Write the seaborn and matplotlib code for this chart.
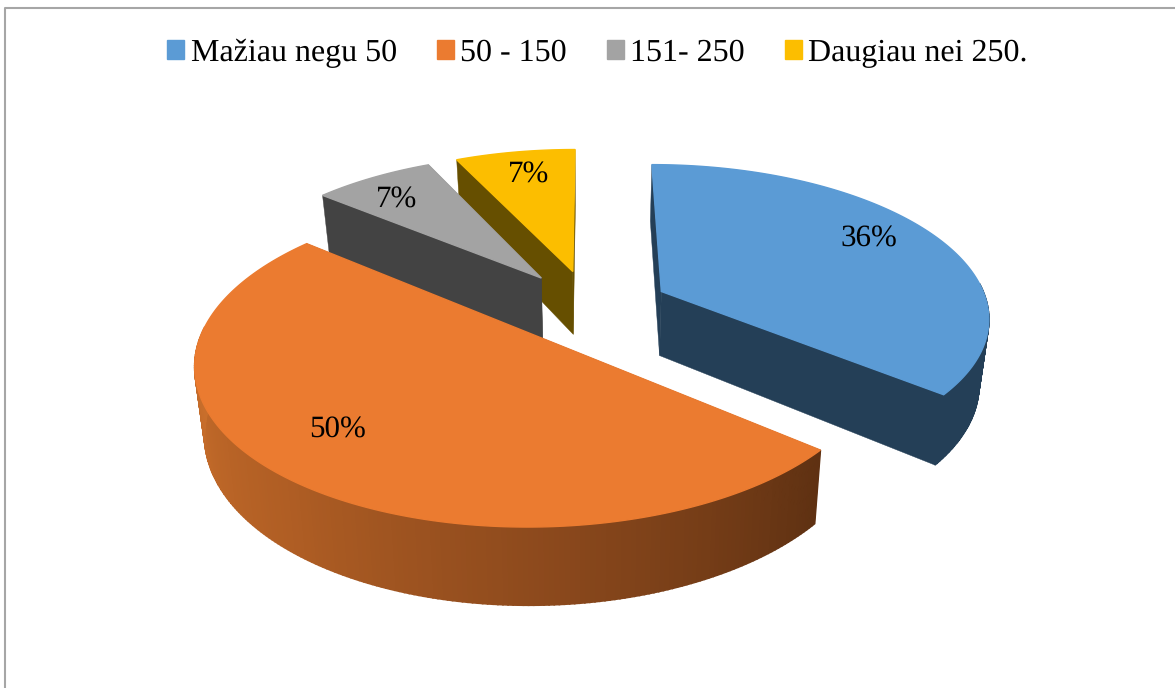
import numpy as np
import seaborn as sns
import matplotlib.pyplot as plt
from matplotlib.patches import Patch

# data
categories = ["Mažiau negu 50", "50 - 150", "151- 250", "Daugiau nei 250."]
shares = [36, 50, 7, 7]
labels = ["36%", "50%", "7%", "7%"]

# look
top_colors = sns.color_palette(["#5B9BD5", "#EB7B30", "#A3A3A3", "#FCBE00"])
wall_colors = ["#243F57", "#5F3112", "#434343", "#664F00"]
explode = [0.245, 0.245, 0.25, 0.25]
label_pos = [(869, 239), (338, 430), (397, 200), (529, 175)]

# projection of the tilted pie onto pixels
CX, CY = 590, 307
A, B, PERSP = 327, 151, 0.155
SHRINK, STRETCH, DEPTH = 0.975, 1.06, 65


def project(u, v, bottom=False):
    w = 1 + PERSP * v
    sx = A * u / w
    sy = -B * v / w
    if bottom:
        return CX + sx * SHRINK, CY + sy * STRETCH + DEPTH
    return CX + sx, CY + sy


def outline(a0, a1, e, n=240):
    # angles in degrees clockwise from 12 o'clock
    mid = np.radians((a0 + a1) / 2)
    u0, v0 = e * np.sin(mid), e * np.cos(mid)
    t = np.radians(np.linspace(a0, a1, n))
    return u0, v0, u0 + np.sin(t), v0 + np.cos(t)


def wall(ax, p, q, color, lw=0.3):
    # p and q are (u, v) ends of one vertical face
    xa, ya = project(*p)
    xb, yb = project(*q)
    xc, yc = project(*q, bottom=True)
    xd, yd = project(*p, bottom=True)
    ax.fill([xa, xb, xc, xd], [ya, yb, yc, yd], color=color, lw=lw)


sns.set_theme(style="white")
plt.rcParams["font.family"] = ["Liberation Serif", "DejaVu Serif"]
plt.rcParams["text.hinting"] = "no_hinting"
plt.rcParams["text.hinting_factor"] = 1

fig, ax = plt.subplots(figsize=(11.75, 6.88), dpi=100)
fig.subplots_adjust(0, 0, 1, 1)
ax.set_xlim(0, 1175)
ax.set_ylim(688, 0)
ax.axis("off")

# frame of the chart, only top and left are in the picture
ax.plot([5, 5, 1175], [688, 8, 8], color="#A6A6A6", lw=1.5)

angles = np.cumsum([0] + shares) * 3.6
orange_ramp = sns.blend_palette(["#5F3112", "#8A481C", "#B05E24", "#C86E2B", "#C86E2B"], 240)

# back slices first
for i in [3, 2, 0, 1]:
    a0, a1 = angles[i], angles[i + 1]
    u0, v0, us, vs = outline(a0, a1, explode[i])
    wall(ax, (u0, v0), (us[0], vs[0]), wall_colors[i])
    wall(ax, (u0, v0), (us[-1], vs[-1]), wall_colors[i])
    for k in range(len(us) - 1):
        # the back part of the rim is hidden by the top face
        if vs[k] - v0 > 0.05 and vs[k + 1] - v0 > 0.05:
            continue
        c = orange_ramp[k] if i == 1 else wall_colors[i]
        wall(ax, (us[k], vs[k]), (us[k + 1], vs[k + 1]), c, lw=1.2)
    x, y = project(np.r_[u0, us], np.r_[v0, vs])
    ax.fill(x, y, color=top_colors[i], lw=1.0)

for text, (x, y) in zip(labels, label_pos):
    ax.text(x, y, text, fontsize=22, color="black", ha="center", va="center")

handles = [Patch(color=c, label=n) for c, n in zip(top_colors, categories)]
ax.legend(handles=handles, ncol=4, frameon=False, fontsize=23,
          loc="center", bbox_to_anchor=(597.5 / 1175, 1 - 53 / 688),
          handlelength=0.53, handleheight=0.53, handletextpad=0.2,
          columnspacing=1.25, borderpad=0, labelcolor="black")

fig.savefig("out.png", dpi=100, facecolor="white")
